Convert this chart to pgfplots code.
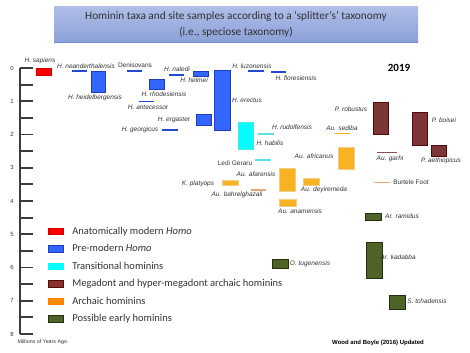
\documentclass[border=0pt]{standalone}
\usepackage{fontspec}
\setmainfont{Carlito}
\newfontfamily\arial{Liberation Sans}
\usepackage{pgfplots}
\pgfplotsset{compat=1.18}
\definecolor{hred}{RGB}{255,0,0}
\definecolor{hblue}{RGB}{51,102,255}
\definecolor{hblueD}{RGB}{30,60,190}
\definecolor{hcyan}{RGB}{0,255,255}
\definecolor{hcyanL}{RGB}{90,225,225}
\definecolor{hbrown}{RGB}{124,54,54}
\definecolor{hbrownD}{RGB}{80,10,10}
\definecolor{hbrownL}{RGB}{140,80,80}
\definecolor{horange}{RGB}{247,180,32}
\definecolor{horangeD}{RGB}{240,205,140}
\definecolor{htan}{RGB}{228,165,115}
\definecolor{hgreen}{RGB}{79,98,40}
\definecolor{hgreenD}{RGB}{35,45,15}
\definecolor{labgray}{RGB}{50,50,50}
\definecolor{axgray}{RGB}{60,60,60}
\definecolor{ttop}{RGB}{176,190,232}
\definecolor{tbot}{RGB}{140,160,216}
\definecolor{tline}{RGB}{110,140,215}
\tikzset{
  lab/.style={font=\arial\itshape\fontsize{6.5}{7}\selectfont, text=labgray, inner sep=0pt},
  labup/.style={font=\arial\fontsize{6.5}{7}\selectfont, text=labgray, inner sep=0pt},
  redb/.style={fill=hred, draw=hred!80!black, line width=0.6pt},
  blueb/.style={fill=hblue, draw=hblueD, line width=0.8pt},
  bluel/.style={draw=hblueD!70!hblue, line width=1.8pt},
  cyanb/.style={fill=hcyan, draw=hcyanL, line width=0.8pt},
  cyanl/.style={draw=hcyanL, line width=1.8pt},
  orb/.style={fill=horange, draw=horangeD, line width=0.8pt},
  orl/.style={draw=horange, line width=1.8pt},
  tanl/.style={draw=htan, line width=1.5pt},
  brb/.style={fill=hbrown, draw=hbrownD, line width=1pt},
  brl/.style={draw=hbrownL, line width=1.8pt},
  grb/.style={fill=hgreen, draw=hgreenD, line width=0.8pt},
}
\newcommand{\bx}[5]{\addplot[#5, forget plot] coordinates {(#1,#3) (#2,#3) (#2,#4) (#1,#4)} -- cycle;}
\newcommand{\hl}[4]{\addplot[#4, forget plot] coordinates {(#1,#3) (#2,#3)};}
\begin{document}
\begin{tikzpicture}
\begin{axis}[
  scale only axis, width=470pt, height=352pt,
  xmin=0, xmax=470, ymin=-2.045, ymax=8.541, y dir=reverse,
  hide axis, clip=false,
  legend cell align=left,
  legend image code/.code={\draw[#1] (0pt,-3.3pt) rectangle (15pt,3.3pt);},
  legend style={at={(axis cs:47.5,4.72)}, anchor=north west, draw=none, fill=none,
    font=\fontsize{10.5}{12}\selectfont, text=labgray, row sep=5pt, inner sep=0pt,
    nodes={inner sep=1pt, text height=8pt, text depth=2.5pt},
    /tikz/every odd column/.style={column sep=8pt}},
]
\path (axis cs:0,-2.045) rectangle (axis cs:470,8.541);
% legend
\addlegendimage{fill=hred, draw=hred!80!black, line width=0.6pt}
\addlegendentry{Anatomically modern \textit{Homo}}
\addlegendimage{fill=hblue, draw=hblueD, line width=0.6pt}
\addlegendentry{Pre-modern \textit{Homo}}
\addlegendimage{fill=hcyan, draw=hcyan, line width=0.6pt}
\addlegendentry{Transitional hominins}
\addlegendimage{fill=hbrown!90!red, draw=hbrownD, line width=0.6pt}
\addlegendentry{Megadont and hyper-megadont archaic hominins}
\addlegendimage{fill=orange!90!yellow, draw=orange, line width=0.6pt}
\addlegendentry{Archaic hominins}
\addlegendimage{fill=hgreen, draw=hgreenD, line width=0.6pt}
\addlegendentry{Possible early hominins}
% y axis
\addplot[axgray, line width=2pt, forget plot] coordinates {(20,0) (20,8)};
\addplot[axgray, line width=1.8pt, unbounded coords=jump, forget plot] coordinates {
(20,0) (33,0) (nan,nan) (20,0.5) (33,0.5) (nan,nan) (20,1) (33,1) (nan,nan)
(20,1.5) (33,1.5) (nan,nan) (20,2) (33,2) (nan,nan) (20,2.5) (33,2.5) (nan,nan)
(20,3) (33,3) (nan,nan) (20,3.5) (33,3.5) (nan,nan) (20,4) (33,4) (nan,nan)
(20,4.5) (33,4.5) (nan,nan) (20,5) (33,5) (nan,nan) (20,5.5) (33,5.5) (nan,nan)
(20,6) (33,6) (nan,nan) (20,6.5) (33,6.5) (nan,nan) (20,7) (33,7) (nan,nan)
(20,7.5) (33,7.5) (nan,nan) (20,8) (33,8)};
\foreach \v in {0,...,8} {\edef\tmp{\noexpand\node[labup, font=\noexpand\arial\noexpand\fontsize{6}{7}\noexpand\selectfont] at (axis cs:12,\v) {\v};}\tmp}
% red
\bx{36}{51}{0.01}{0.23}{redb}
% blue boxes
\bx{91}{105}{0.11}{0.73}{blueb}
\bx{149}{164}{0.33}{0.63}{blueb}
\bx{193}{208}{0.11}{0.26}{blueb}
\bx{196}{211}{1.41}{1.73}{blueb}
\bx{214}{230}{0.06}{1.89}{blueb}
% blue lines
\hl{72}{87}{0.08}{bluel}
\hl{127}{142}{0.08}{bluel}
\hl{169}{184}{0.21}{bluel}
\hl{139}{154}{1.01}{bluel}
\hl{162}{178}{1.87}{bluel}
\hl{248}{264}{0.08}{bluel}
\hl{271}{286}{0.11}{bluel}
% cyan
\bx{238}{253}{1.64}{2.45}{cyanb}
\hl{258}{274}{1.98}{cyanl}
\hl{255}{271}{2.77}{cyanl}
% orange
\bx{222}{238}{3.37}{3.54}{orb}
\bx{279}{295}{3.03}{3.70}{orb}
\bx{279}{296}{3.94}{4.17}{orb}
\bx{303}{319}{3.31}{3.53}{orb}
\bx{338}{354}{2.40}{3.04}{orb}
\hl{334}{350}{1.97}{orl}
\hl{251}{266}{3.67}{tanl}
\hl{374}{390}{3.44}{tanl}
% brown
\bx{373}{388}{1.04}{1.99}{brb}
\bx{412}{427}{1.33}{2.32}{brb}
\bx{431}{446}{2.34}{2.67}{brb}
\hl{377}{397}{2.54}{brl}
% green
\bx{365}{381}{4.37}{4.59}{grb}
\bx{366}{382}{5.25}{6.32}{grb}
\bx{272}{288}{5.75}{6.04}{grb}
\bx{389}{405}{6.83}{7.25}{grb}
% labels
\node[lab] at (axis cs:40,-0.22) {H. sapiens};
\node[lab] at (axis cs:86,-0.06) {H. neanderthalensis};
\node[lab] at (axis cs:95,0.89) {H. heidelbergensis};
\node[labup] at (axis cs:135,-0.07) {Denisovans};
\node[lab] at (axis cs:177,0.04) {H. naledi};
\node[lab] at (axis cs:194,0.38) {H. helmei};
\node[lab] at (axis cs:164,0.78) {H. rhodesiensis};
\node[lab] at (axis cs:148,1.18) {H. antecessor};
\node[lab] at (axis cs:174,1.56) {H. ergaster};
\node[lab] at (axis cs:140,1.87) {H. georgicus};
\node[lab] at (axis cs:247,0.96) {H. erectus};
\node[lab] at (axis cs:252,-0.04) {H. luzonensis};
\node[lab] at (axis cs:296,0.31) {H. floresiensis};
\node[lab] at (axis cs:270,2.26) {H. habilis};
\node[lab] at (axis cs:292,1.77) {H. rudolfensis};
\node[labup] at (axis cs:235,2.85) {Ledi Geraru};
\node[lab] at (axis cs:198,3.47) {K. platyops};
\node[lab] at (axis cs:237,3.82) {Au. bahrelghazali};
\node[lab] at (axis cs:256,3.20) {Au. afarensis};
\node[lab] at (axis cs:300,4.32) {Au. anamensis};
\node[lab] at (axis cs:324,3.67) {Au. deyiremeda};
\node[labup] at (axis cs:411,3.42) {Burtele Foot};
\node[lab] at (axis cs:402,4.45) {Ar. ramidus};
\node[lab] at (axis cs:398,5.69) {Ar. kadabba};
\node[lab] at (axis cs:310,5.90) {O. tugenensis};
\node[lab] at (axis cs:427,7.01) {S. tchadensis};
\node[lab] at (axis cs:351,1.23) {P. robustus};
\node[lab] at (axis cs:342,1.81) {Au. sediba};
\node[lab] at (axis cs:444,1.56) {P. boisei};
\node[lab] at (axis cs:441,2.80) {P. aethiopicus};
\node[lab] at (axis cs:390,2.72) {Au. garhi};
\node[lab] at (axis cs:314,2.65) {Au. africanus};
\node[font=\bfseries\fontsize{11}{12}\selectfont, text=black, inner sep=0pt] at (axis cs:399,0.01) {2019};
% title
\node[top color=ttop, bottom color=tbot, minimum width=364pt, minimum height=36.5pt, inner sep=0pt,
  align=center, font=\fontsize{11.3}{16}\selectfont, text=labgray] (T) at (axis cs:236,-1.314)
  {Hominin taxa and site samples according to a ‘splitter’s’ taxonomy\\(i.e., speciose taxonomy)};
\draw[tline, line width=0.8pt] (T.south west) -- (T.south east);
% footer
\node[font=\arial\fontsize{5.3}{6}\selectfont, text=labgray, inner sep=0pt, anchor=west] at (axis cs:17.5,8.250) {Millions of Years Ago};
\node[font=\arial\bfseries\fontsize{6}{7}\selectfont, text=black, inner sep=0pt] at (axis cs:378,8.262) {Wood and Boyle (2016) Updated};
\end{axis}
\end{tikzpicture}
\end{document}
